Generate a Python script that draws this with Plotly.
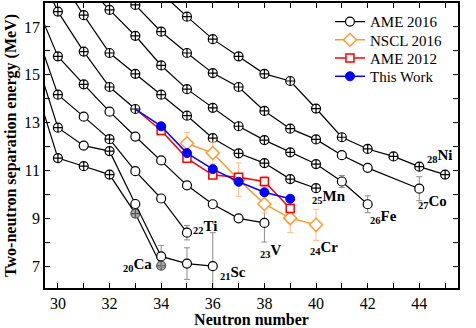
import plotly.graph_objects as go

# ---------------- data ----------------
# AME 2016 isotopic chains: neutron number, S2n (MeV), uncertainty, marker kind
# kind: "x" = circle with cross, "o" = plain circle, "g" = grey filled circle
N_CA = [29, 30, 31, 32, 33, 34]
S2N_CA = [14.98, 11.52, 11.18, 10.83, 9.20, 7.02]
ERR_CA = [0, 0, 0, 0, 0, 0]
KIND_CA = ["x", "x", "x", "x", "g", "g"]

N_SC = [29, 30, 31, 32, 33, 34, 35, 36]
S2N_SC = [16.19, 12.79, 12.04, 11.81, 9.60, 7.41, 7.11, 7.00]
ERR_SC = [0, 0, 0, 0, 0.1, 0.46, 0.66, 1.4]
KIND_SC = ["x", "x", "o", "x", "o", "o", "o", "o"]

N_TI = [29, 30, 31, 32, 33, 34, 35]
S2N_TI = [17.29, 14.17, 13.25, 12.31, 10.97, 9.83, 8.40]
ERR_TI = [0, 0, 0, 0, 0, 0, 0.3]
KIND_TI = ["x", "x", "o", "x", "o", "o", "o"]

N_V = [29, 30, 31, 32, 33, 34, 35, 36, 37, 38]
S2N_V = [18.33, 15.77, 14.60, 13.46, 12.42, 11.42, 10.38, 9.59, 9.00, 8.81]
ERR_V = [0, 0, 0, 0, 0, 0, 0, 0, 0.1, 0.8]
KIND_V = ["x", "x", "x", "o", "o", "o", "o", "o", "o", "o"]

N_CR = [29, 30, 31, 32, 33]
S2N_CR = [19.98, 17.64, 15.97, 14.49, 13.57]
ERR_CR = [0, 0, 0, 0, 0]
KIND_CR = ["x", "x", "x", "x", "x"]

N_MN = [30, 31, 32, 33, 34, 35, 36, 37, 38, 39, 40]
S2N_MN = [19.17, 17.49, 15.91, 15.04, 14.17, 13.29, 12.35, 11.72, 11.31, 10.64, 10.26]
ERR_MN = [0] * 11
KIND_MN = ["x"] * 11

N_FE = [31, 32, 33, 34, 35, 36, 37, 38, 39, 40, 41, 42]
S2N_FE = [18.85, 17.71, 16.63, 15.39, 14.40, 13.62, 12.85, 12.27, 11.76, 11.27, 10.54, 9.59]
ERR_FE = [0, 0, 0, 0, 0, 0, 0, 0, 0, 0, 0.25, 0.35]
KIND_FE = ["x"] * 10 + ["o", "o"]

N_CO = [32, 33, 34, 35, 36, 37, 38, 39, 40, 41, 42, 44]
S2N_CO = [19.03, 17.92, 16.80, 15.91, 15.07, 14.49, 13.49, 12.75, 12.30, 11.64, 11.11, 10.24]
ERR_CO = [0, 0, 0, 0, 0, 0, 0, 0, 0, 0, 0, 0.5]
KIND_CO = ["x"] * 9 + ["o", "o", "o"]

N_NI = [34, 35, 36, 37, 38, 39, 40, 41, 42, 43, 44, 45]
S2N_NI = [18.42, 17.43, 16.49, 15.77, 15.04, 14.74, 13.59, 12.39, 11.90, 11.59, 11.16, 10.83]
ERR_NI = [0] * 12
KIND_NI = ["x"] * 12

# Cr chain from other evaluations / measurements (first point = last AME2016 Cr point)
N_AME12 = [33, 34, 35, 36, 37, 38, 39]
S2N_AME12 = [13.57, 12.67, 11.51, 10.81, 10.72, 10.54, 9.41]
ERR_AME12 = [0, 0.1, 0.15, 0.15, 0.12, 0.22, 0.12]

N_WORK = [33, 34, 35, 36, 37, 38, 39]
S2N_WORK = [13.57, 12.85, 11.73, 11.06, 10.53, 10.09, 9.82]
ERR_WORK = [0, 0.05, 0.05, 0.05, 0.05, 0.05, 0.05]

N_NSCL = [35, 36, 37, 38, 39, 40]
S2N_NSCL = [12.14, 11.73, 10.62, 9.60, 9.01, 8.73]
ERR_NSCL = [0.45, 0.45, 0.7, 0.38, 0.6, 0.65]

ELEMENT_LABELS = ["20|Ca", "21|Sc", "22|Ti", "23|V", "24|Cr", "25|Mn", "26|Fe", "27|Co", "28|Ni"]
SERIES_NAMES = ["AME 2016", "NSCL 2016", "AME 2012", "This Work"]

X_TICKS = [30, 32, 34, 36, 38, 40, 42, 44]
Y_TICKS = [7, 9, 11, 13, 15, 17]

# ---------------- figure ----------------
FONT = "Liberation Serif"
fig = go.Figure()

chains = [
    (N_CA, S2N_CA, ERR_CA, KIND_CA),
    (N_SC, S2N_SC, ERR_SC, KIND_SC),
    (N_TI, S2N_TI, ERR_TI, KIND_TI),
    (N_V, S2N_V, ERR_V, KIND_V),
    (N_CR, S2N_CR, ERR_CR, KIND_CR),
    (N_MN, S2N_MN, ERR_MN, KIND_MN),
    (N_FE, S2N_FE, ERR_FE, KIND_FE),
    (N_CO, S2N_CO, ERR_CO, KIND_CO),
    (N_NI, S2N_NI, ERR_NI, KIND_NI),
]

sym_map = {"x": "circle-cross", "o": "circle", "g": "circle-cross"}
fill_map = {"x": "white", "o": "white", "g": "#a8a8a8"}
edge_map = {"x": "black", "o": "black", "g": "#555555"}

for n, s, e, k in chains:
    fig.add_trace(go.Scatter(
        x=n, y=s, mode="lines+markers", showlegend=False,
        line=dict(color="black", width=1.2),
        marker=dict(symbol=[sym_map[v] for v in k], size=9,
                    color=[fill_map[v] for v in k],
                    line=dict(color=[edge_map[v] for v in k], width=1.2)),
        error_y=dict(type="data", array=e, color="#8c8c8c", thickness=1, width=3),
    ))

# legend entry for AME 2016 (plain open circle with line)
fig.add_trace(go.Scatter(
    x=[None], y=[None], mode="lines+markers", name=SERIES_NAMES[0], legend="legend",
    line=dict(color="black", width=1.2),
    marker=dict(symbol="circle", size=9, color="white", line=dict(color="black", width=1.2)),
))

# connecting segments from the last AME2016 Cr point
fig.add_trace(go.Scatter(x=N_AME12[:2], y=S2N_AME12[:2], mode="lines", showlegend=False,
                         line=dict(color="#ff0000", width=1.5)))
fig.add_trace(go.Scatter(x=N_WORK[:2], y=S2N_WORK[:2], mode="lines", showlegend=False,
                         line=dict(color="#0000ff", width=1.5)))

fig.add_trace(go.Scatter(
    x=N_NSCL, y=S2N_NSCL, mode="lines+markers", name=SERIES_NAMES[1], legend="legend2",
    line=dict(color="#ff9a2e", width=1.5),
    marker=dict(symbol="diamond", size=10, color="white", line=dict(color="#ff9a2e", width=1.5)),
    error_y=dict(type="data", array=ERR_NSCL, color="#ffbf80", thickness=1, width=3),
))
fig.add_trace(go.Scatter(
    x=N_AME12[1:], y=S2N_AME12[1:], mode="lines+markers", name=SERIES_NAMES[2], legend="legend3",
    line=dict(color="#ff0000", width=1.5),
    marker=dict(symbol="square", size=8, color="white", line=dict(color="#ff0000", width=1.5)),
    error_y=dict(type="data", array=ERR_AME12[1:], color="#ff9090", thickness=1, width=3),
))
fig.add_trace(go.Scatter(
    x=N_WORK[1:], y=S2N_WORK[1:], mode="lines+markers",
    name="<span style='font-family:\"Liberation Serif\",\"Times New Roman\",serif'>"
         + SERIES_NAMES[3] + "</span>",
    legend="legend4",
    line=dict(color="#0000ff", width=1.5),
    marker=dict(symbol="circle", size=9, color="#0000ff", line=dict(color="#0000ff", width=1)),
    error_y=dict(type="data", array=ERR_WORK[1:], color="#7070ff", thickness=1, width=3),
))

# element labels
label_pos = [(33.1, 7.07), (36.8, 6.72), (35.7, 8.62), (38.25, 7.62), (40.3, 7.75),
             (40.5, 9.9), (42.6, 9.07), (44.5, 9.7), (44.8, 11.6)]
for lab, (lx, ly) in zip(ELEMENT_LABELS, label_pos):
    z, sym = lab.split("|")
    fig.add_annotation(x=lx, y=ly, xref="x", yref="y", showarrow=False,
                       text=f"<b><sub>{z}</sub>{sym}</b>",
                       font=dict(family=FONT, size=15, color="black"))

axis_common = dict(
    showline=True, linecolor="black", linewidth=1.8, mirror="allticks",
    ticks="inside", ticklen=5, tickwidth=1.2, tickcolor="black",
    showgrid=False, zeroline=False,
    tickfont=dict(family=FONT, size=16, color="black"),
)

fig.update_xaxes(
    range=[29.5, 45.5], tickvals=X_TICKS,
    minor=dict(dtick=1, tick0=30, ticks="inside", ticklen=5, tickwidth=1.2, tickcolor="black"),
    title=dict(text="<b>Neutron number</b>", font=dict(family=FONT, size=16, color="black"), standoff=1),
    **axis_common,
)
fig.update_yaxes(
    range=[6.09, 18.0], tickvals=Y_TICKS,
    minor=dict(dtick=1, tick0=7, ticks="inside", ticklen=5, tickwidth=1.2, tickcolor="black"),
    title=dict(text="<b>Two-neutron separation energy (MeV)</b>",
               font=dict(family=FONT, size=16, color="black"), standoff=3),
    **axis_common,
)


def leg(ypos):
    return dict(x=0.69, y=ypos, xanchor="left", yanchor="middle", bgcolor="rgba(0,0,0,0)",
                borderwidth=0, font=dict(family="Times New Roman, Liberation Serif, serif",
                                         size=15, color="black"))


fig.update_layout(
    width=476, height=328,
    margin=dict(l=45, r=18, t=1, b=40),
    paper_bgcolor="white", plot_bgcolor="white",
    font=dict(family=FONT, color="black"),
    legend=leg(0.934),
    legend2=leg(0.870),
    legend3=leg(0.806),
    legend4=leg(0.742),
)

fig.write_html("out.html")
